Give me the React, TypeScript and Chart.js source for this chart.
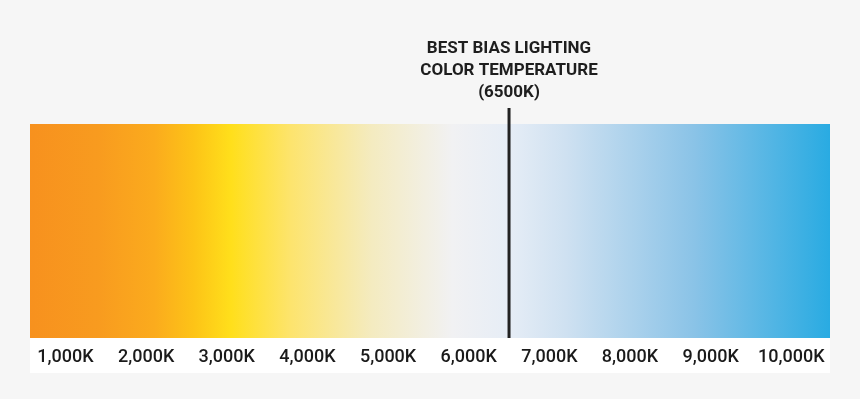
import React, { useEffect, useRef } from "react";
import { Chart, registerables } from "chart.js";

Chart.register(...registerables);

const TICK_VALUES = [1000, 2000, 3000, 4000, 5000, 6000, 7000, 8000, 9000, 10000];
const RANGE = [560, 10480];
const MARKER_VALUE = 6500;
const TITLE_LINES = ["BEST BIAS LIGHTING", "COLOR TEMPERATURE", "(6500K)"];
const CATEGORIES = ["Color temperature"];
const STOP_VALUES = [560, 1400, 2100, 2600, 3050, 3800, 4800, 5800, 6500, 7200, 8800, 10480];
const STOP_COLORS = [
  "#f7911e",
  "#f89b1f",
  "#fbab1d",
  "#fdc417",
  "#ffdf1b",
  "#fde46e",
  "#f4ebc0",
  "#f1f1f3",
  "#e6edf6",
  "#cfe1f1",
  "#8ac3e7",
  "#29abe2",
];

const FONT = "Roboto, 'DejaVu Sans', sans-serif";

export default function App() {
  const ref = useRef<HTMLCanvasElement>(null);

  useEffect(() => {
    document.body.style.margin = "0";
    document.body.style.background = "#f6f6f6";
    const canvas = ref.current!;

    const bgPlugin = {
      id: "bg",
      beforeDraw(chart: any) {
        const { ctx, chartArea } = chart;
        ctx.save();
        ctx.fillStyle = "#f6f6f6";
        ctx.fillRect(0, 0, chart.width, chart.height);
        ctx.fillStyle = "#ffffff";
        ctx.fillRect(chartArea.left, chartArea.bottom, chartArea.right - chartArea.left, 35);
        ctx.restore();
      },
    };

    const markerPlugin = {
      id: "marker",
      afterDatasetsDraw(chart: any) {
        const { ctx, chartArea } = chart;
        const x = chart.scales.x.getPixelForValue(MARKER_VALUE);
        ctx.save();
        ctx.fillStyle = "#222222";
        ctx.fillRect(x - 1.5, chartArea.top - 16, 3, chartArea.bottom - chartArea.top + 16);
        ctx.fillStyle = "#1e1e1e";
        ctx.font = `bold 17px ${FONT}`;
        ctx.textAlign = "center";
        ctx.textBaseline = "alphabetic";
        TITLE_LINES.forEach((line, i) => {
          ctx.fillText(line, x, 53 + i * 22);
        });
        ctx.restore();
      },
    };

    const chart = new Chart(canvas, {
      type: "bar",
      data: {
        labels: CATEGORIES,
        datasets: [
          {
            data: [RANGE] as any,
            barPercentage: 1,
            categoryPercentage: 1,
            borderWidth: 0,
            backgroundColor: (c: any) => {
              const ch = c.chart;
              const area = ch.chartArea;
              if (!area) return STOP_COLORS[0];
              const xs = ch.scales.x;
              const g = ch.ctx.createLinearGradient(area.left, 0, area.right, 0);
              const w = area.right - area.left;
              STOP_VALUES.forEach((v, i) => {
                const p = (xs.getPixelForValue(v) - area.left) / w;
                g.addColorStop(Math.min(1, Math.max(0, p)), STOP_COLORS[i]);
              });
              return g;
            },
          },
        ],
      },
      options: {
        indexAxis: "y",
        animation: false,
        responsive: false,
        layout: { padding: { left: 30, right: 30, top: 124, bottom: 0 } },
        plugins: { legend: { display: false }, tooltip: { enabled: false }, title: { display: false } },
        scales: {
          y: { display: false },
          x: {
            type: "linear",
            min: RANGE[0],
            max: RANGE[1],
            border: { display: false },
            grid: { display: false, drawTicks: false },
            afterBuildTicks: (s: any) => {
              s.ticks = TICK_VALUES.map((v) => ({ value: v }));
            },
            afterFit: (s: any) => {
              s.height = 61;
            },
            ticks: {
              padding: 9,
              color: "#1a1a1a",
              maxRotation: 0,
              autoSkip: false,
              font: { family: FONT, size: 18, weight: "500" as any },
              callback: (v: any) => Number(v).toLocaleString("en-US") + "K",
            },
          },
        },
      } as any,
      plugins: [bgPlugin, markerPlugin],
    });
    return () => chart.destroy();
  }, []);

  return <canvas ref={ref} width={860} height={399} style={{ display: "block" }} />;
}
